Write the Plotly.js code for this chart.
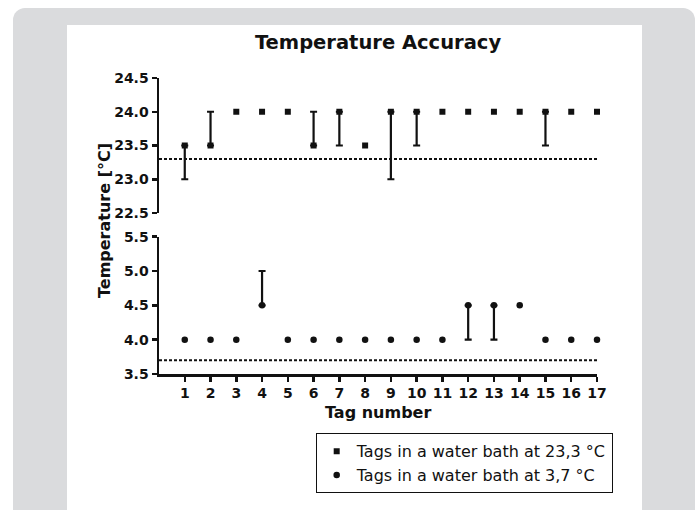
<!DOCTYPE html>
<html>
<head>
<meta charset="utf-8">
<script src="https://cdn.plot.ly/plotly-3.0.1.min.js"></script>
<style>
  html, body { margin: 0; padding: 0; background: #ffffff; width: 699px; height: 510px; overflow: hidden; }
  #frame { position: absolute; left: 13px; top: 8px; width: 682px; height: 530px; background: #dadbdd; border-radius: 12px; }
  #panel { position: absolute; left: 67px; top: 25px; width: 575px; height: 500px; background: #ffffff; }
  #chart { position: absolute; left: 0; top: 0; width: 699px; height: 510px; }
</style>
</head>
<body>
<div id="frame"></div>
<div id="panel"></div>
<div id="chart"></div>
<script>
// ---- data ----
const tags = [1, 2, 3, 4, 5, 6, 7, 8, 9, 10, 11, 12, 13, 14, 15, 16, 17];
const tickLabels = ['1','2','3','4','5','6','7','8','9','10','11','12','13','14','15','16','17'];

// Tags in a water bath at 23,3 °C
const warmValues   = [23.5, 23.5, 24.0, 24.0, 24.0, 23.5, 24.0, 23.5, 24.0, 24.0, 24.0, 24.0, 24.0, 24.0, 24.0, 24.0, 24.0];
const warmErrPlus  = [0, 0.5, 0, 0, 0, 0.5, 0, 0, 0, 0, 0, 0, 0, 0, 0, 0, 0];
const warmErrMinus = [0.5, 0, 0, 0, 0, 0, 0.5, 0, 1.0, 0.5, 0, 0, 0, 0, 0.5, 0, 0];

// Tags in a water bath at 3,7 °C
const coldValues   = [4.0, 4.0, 4.0, 4.5, 4.0, 4.0, 4.0, 4.0, 4.0, 4.0, 4.0, 4.5, 4.5, 4.5, 4.0, 4.0, 4.0];
const coldErrPlus  = [0, 0, 0, 0.5, 0, 0, 0, 0, 0, 0, 0, 0, 0, 0, 0, 0, 0];
const coldErrMinus = [0, 0, 0, 0, 0, 0, 0, 0, 0, 0, 0, 0.5, 0.5, 0, 0, 0, 0];

const warmBath = 23.3;
const coldBath = 3.7;
const xRange = [0, 17];

const seriesNames = ['Tags in a water bath at 23,3 \u00B0C', 'Tags in a water bath at 3,7 \u00B0C'];

// ---- build ----
const FONT = 'DejaVu Sans, Liberation Sans, Arial, sans-serif';
const INK = '#111111';

function errArr(plus, minus, which) {
  return plus.map((p, i) => (p || minus[i]) ? (which === 'p' ? p : minus[i]) : NaN);
}

const errStyle = { type: 'data', symmetric: false, color: INK, thickness: 2.2, width: 3.5 };

const traces = [
  {
    type: 'scatter', mode: 'markers', name: seriesNames[0],
    x: tags, y: warmValues, xaxis: 'x', yaxis: 'y2', cliponaxis: false,
    marker: { symbol: 'square', size: 6, color: INK },
    error_y: Object.assign({}, errStyle, { array: errArr(warmErrPlus, warmErrMinus, 'p'), arrayminus: errArr(warmErrPlus, warmErrMinus, 'm') })
  },
  {
    type: 'scatter', mode: 'markers', name: seriesNames[1],
    x: tags, y: coldValues, xaxis: 'x', yaxis: 'y', cliponaxis: false,
    marker: { symbol: 'circle', size: 6.5, color: INK },
    error_y: Object.assign({}, errStyle, { array: errArr(coldErrPlus, coldErrMinus, 'p'), arrayminus: errArr(coldErrPlus, coldErrMinus, 'm') })
  },
  {
    type: 'scatter', mode: 'lines', showlegend: false, hoverinfo: 'skip',
    x: xRange, y: [warmBath, warmBath], xaxis: 'x', yaxis: 'y2',
    line: { color: INK, width: 2, dash: '3px,2px' }
  },
  {
    type: 'scatter', mode: 'lines', showlegend: false, hoverinfo: 'skip',
    x: xRange, y: [coldBath, coldBath], xaxis: 'x', yaxis: 'y',
    line: { color: INK, width: 2, dash: '3px,2px' }
  }
];

const tickFont = { family: FONT, size: 14, color: INK, weight: 'bold' };
const yCommon = {
  showline: true, linecolor: INK, linewidth: 2.5, mirror: false,
  ticks: 'outside', ticklen: 5, tickwidth: 2.5, tickcolor: INK,
  showgrid: false, zeroline: false, dtick: 0.5, tickformat: '.1f',
  tickfont: tickFont, anchor: 'x', fixedrange: true
};

const layout = {
  width: 699, height: 510,
  paper_bgcolor: 'rgba(0,0,0,0)', plot_bgcolor: 'rgba(0,0,0,0)',
  margin: { l: 159, r: 102, t: 78, b: 136, pad: 0 },
  showlegend: true,
  title: {
    text: 'Temperature Accuracy',
    font: { family: FONT, size: 19.5, color: INK, weight: 'bold' },
    x: 0.5, xref: 'paper', xanchor: 'center',
    y: 1 - 42 / 510, yref: 'container', yanchor: 'middle'
  },
  xaxis: {
    range: xRange, tickvals: tags, ticktext: tickLabels,
    showline: true, linecolor: INK, linewidth: 2.5,
    ticks: 'outside', ticklen: 5, tickwidth: 2.5, tickcolor: INK,
    showgrid: false, zeroline: false, tickfont: tickFont,
    anchor: 'y', fixedrange: true
  },
  yaxis: Object.assign({}, yCommon, { range: [3.5, 5.5], domain: [0, 0.4639] }),
  yaxis2: Object.assign({}, yCommon, { range: [22.5, 24.5], domain: [0.5439, 1] }),
  legend: {
    x: (315.7 - 159) / 438, y: (374 - 433.3) / 296, xanchor: 'left', yanchor: 'top',
    bgcolor: '#ffffff', bordercolor: INK, borderwidth: 1,
    font: { family: FONT, size: 16, color: INK },
    tracegroupgap: 0, itemwidth: 30
  },
  annotations: [
    {
      text: 'Temperature [\u00B0C]', textangle: -90, showarrow: false,
      xref: 'paper', yref: 'paper', x: (104 - 159) / 438, y: (374 - 221) / 296,
      xanchor: 'center', yanchor: 'middle',
      font: { family: FONT, size: 16, color: INK, weight: 'bold' }
    },
    {
      text: 'Tag number', showarrow: false,
      xref: 'paper', yref: 'paper', x: 0.5, y: (374 - 412) / 296,
      xanchor: 'center', yanchor: 'middle',
      font: { family: FONT, size: 16, color: INK, weight: 'bold' }
    }
  ]
};

Plotly.newPlot('chart', traces, layout, { staticPlot: true, displayModeBar: false });
</script>
</body>
</html>
